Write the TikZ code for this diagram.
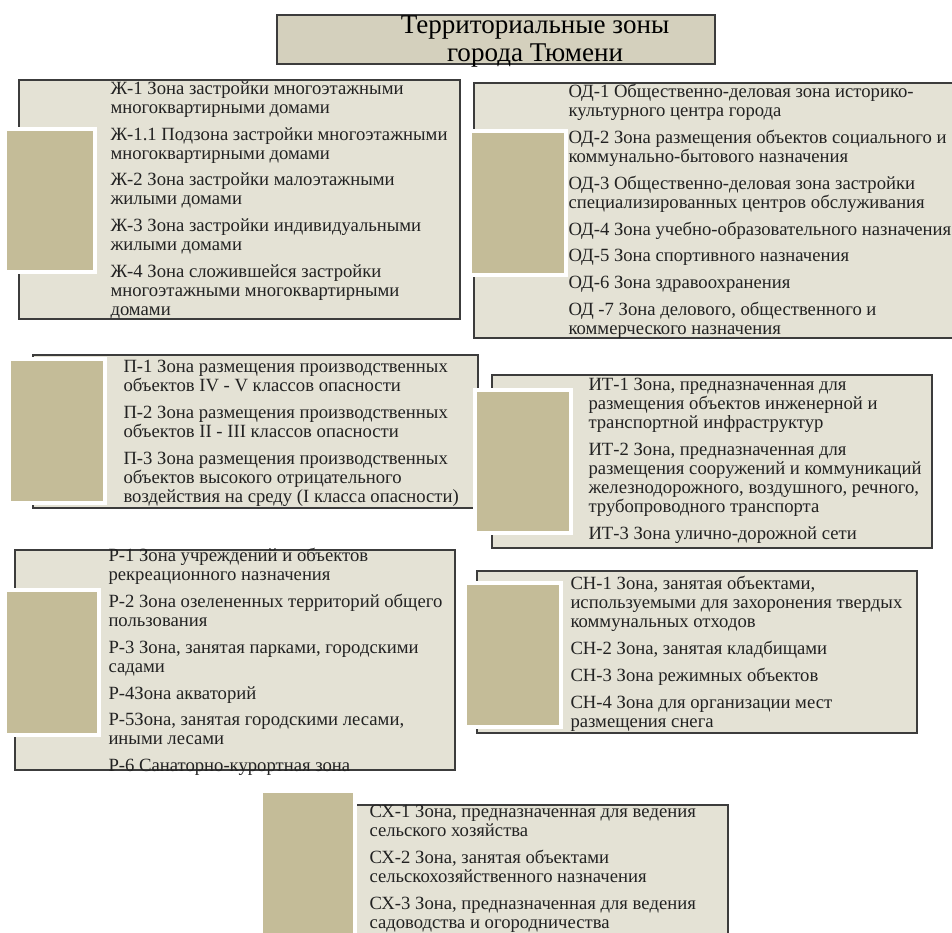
\documentclass[tikz,border=0pt]{standalone}
\usepackage{fontspec}
\setmainfont{Liberation Serif}

\definecolor{zonefill}{HTML}{E4E2D5}
\definecolor{titlefill}{HTML}{D4D0BD}
\definecolor{zonesqfill}{HTML}{C4BC98}
\definecolor{zoneline}{HTML}{3C3C3C}
\definecolor{zoneink}{HTML}{222222}

\tikzset{every picture/.style={line width=0.75pt}}
\tikzset{
  titlebox/.style={draw=zoneline, fill=titlefill, line width=1.1pt},
  zonebox/.style={draw=zoneline, fill=zonefill, line width=0.9pt},
  zonesq/.style={draw=white, fill=zonesqfill, line width=3pt},
  titletext/.style={anchor=north, inner sep=0pt, align=center, text=black,
    font=\fontsize{20.3}{21}\selectfont},
  zonetext/.style={anchor=north west, inner sep=0pt, align=left, text=zoneink,
    font=\fontsize{14}{14.25}\selectfont}
}
\newcommand{\itemgap}{\\[5.8pt]}

\begin{document}
\begin{tikzpicture}[x=0.75pt,y=0.75pt,yscale=-1,xscale=1]
\useasboundingbox (0,0) rectangle (952,932);

%Shape: Rectangle [title]
\draw [titlebox] (277,15) rectangle (715,64) ;
% Text Node
\draw (535,15) node [titletext] (title) {Территориальные зоны\\города Тюмени};

%Shape: Rectangle [Ж]
\draw [zonebox] (19,80) rectangle (460,319) ;
\draw [zonesq] (5,129) rectangle (95,272) ;
% Text Node
\draw (110,81) node [zonetext] (zhil) {Ж-1 Зона застройки многоэтажными\\многоквартирными домами\itemgap
Ж-1.1 Подзона застройки многоэтажными\\многоквартирными домами\itemgap
Ж-2 Зона застройки малоэтажными\\жилыми домами\itemgap
Ж-3 Зона застройки индивидуальными\\жилыми домами\itemgap
Ж-4 Зона сложившейся застройки\\многоэтажными многоквартирными\\домами};

%Shape: Rectangle [ОД]
\draw [zonebox] (474,83) rectangle (960,338) ;
\draw [zonesq] (470,131) rectangle (566,275) ;
% Text Node
\draw (568,84) node [zonetext] (obdel) {ОД-1 Общественно-деловая зона историко-\\культурного центра города\itemgap
ОД-2 Зона размещения объектов социального и\\коммунально-бытового назначения\itemgap
ОД-3 Общественно-деловая зона застройки\\специализированных центров обслуживания\itemgap
ОД-4 Зона учебно-образовательного назначения\itemgap
ОД-5 Зона спортивного назначения\itemgap
ОД-6 Зона здравоохранения\itemgap
ОД -7 Зона делового, общественного и\\коммерческого назначения};

%Shape: Rectangle [П]
\draw [zonebox] (33,355) rectangle (478,508) ;
\draw [zonesq] (9,359) rectangle (105,503) ;
% Text Node
\draw (123,360) node [zonetext] (proizv) {П-1 Зона размещения производственных\\объектов IV - V классов опасности\itemgap
П-2 Зона размещения производственных\\объектов II - III классов опасности\itemgap
П-3 Зона размещения производственных\\объектов высокого отрицательного\\воздействия на среду (I класса опасности)};

%Shape: Rectangle [ИТ]
\draw [zonebox] (492,375) rectangle (932,548) ;
\draw [zonesq] (475,390) rectangle (571,533) ;
% Text Node
\draw (588,378) node [zonetext] (infra) {ИТ-1 Зона, предназначенная для\\размещения объектов инженерной и\\транспортной инфраструктур\itemgap
ИТ-2 Зона, предназначенная для\\размещения сооружений и коммуникаций\\железнодорожного, воздушного, речного,\\трубопроводного транспорта\itemgap
ИТ-3 Зона улично-дорожной сети};

%Shape: Rectangle [Р]
\draw [zonebox] (15,550) rectangle (455,770) ;
\draw [zonesq] (5,590) rectangle (99,735) ;
% Text Node
\draw (108,548) node [zonetext] (rekr) {Р-1 Зона учреждений и объектов\\рекреационного назначения\itemgap
Р-2 Зона озелененных территорий общего\\пользования\itemgap
Р-3 Зона, занятая парками, городскими\\садами\itemgap
Р-4Зона акваторий\itemgap
Р-5Зона, занятая городскими лесами,\\иными лесами\itemgap
Р-6 Санаторно-курортная зона};

%Shape: Rectangle [СН]
\draw [zonebox] (477,571) rectangle (917,733) ;
\draw [zonesq] (465,583) rectangle (561,727) ;
% Text Node
\draw (570,576) node [zonetext] (spec) {СН-1 Зона, занятая объектами,\\используемыми для захоронения твердых\\коммунальных отходов\itemgap
СН-2 Зона, занятая кладбищами\itemgap
СН-3 Зона режимных объектов\itemgap
СН-4 Зона для организации мест\\размещения снега};

%Shape: Rectangle [СХ]
\draw [zonebox] (353,805) rectangle (728,950) ;
\draw [zonesq] (261,791) rectangle (355,950) ;
% Text Node
\draw (369,805) node [zonetext] (selhoz) {СХ-1 Зона, предназначенная для ведения\\сельского хозяйства\itemgap
СХ-2 Зона, занятая объектами\\сельскохозяйственного назначения\itemgap
СХ-3 Зона, предназначенная для ведения\\садоводства и огородничества};

\end{tikzpicture}
\end{document}
